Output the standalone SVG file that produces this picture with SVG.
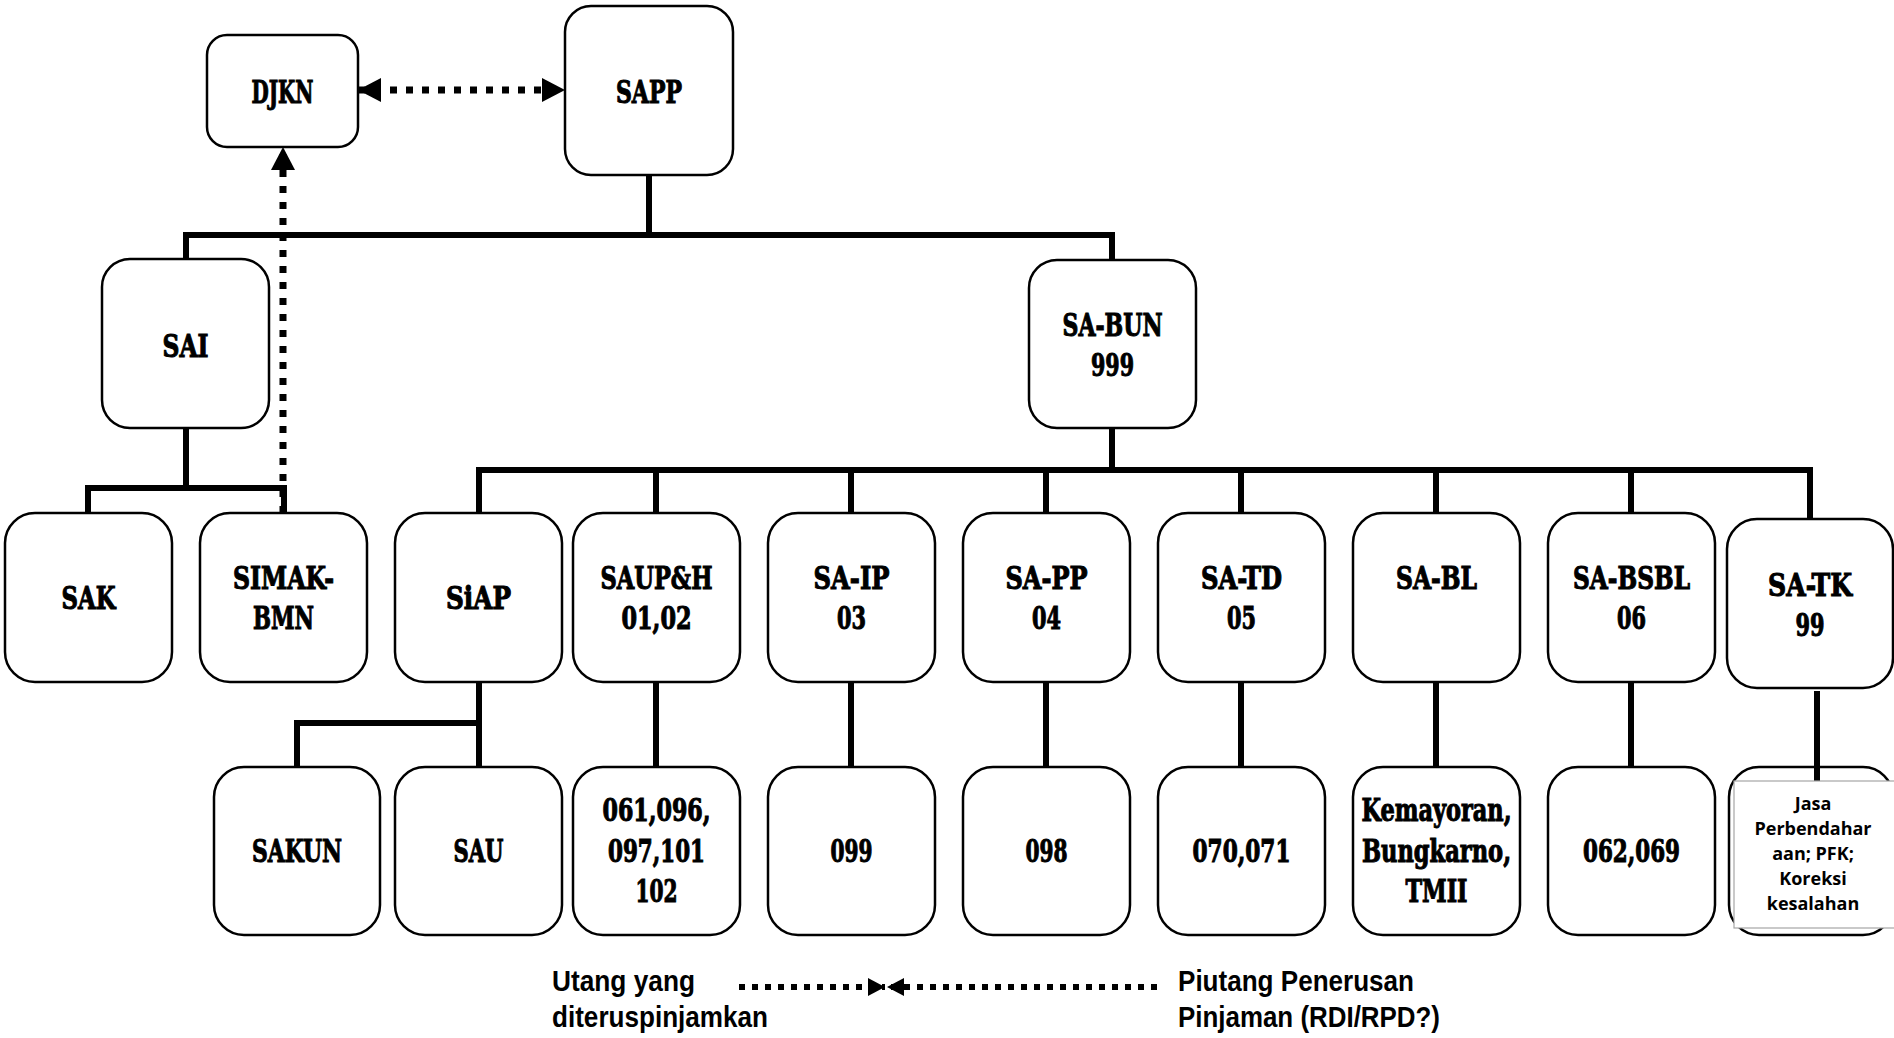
<svg xmlns="http://www.w3.org/2000/svg" width="1894" height="1038" viewBox="0 0 1894 1038">
<style>
.box{fill:#fff;stroke:#000;stroke-width:2.5}
.conn{fill:none;stroke:#000;stroke-width:6;stroke-linejoin:miter}
.dot{fill:none;stroke:#000;stroke-width:7;stroke-dasharray:7 9}
.ldot{fill:none;stroke:#000;stroke-width:6;stroke-dasharray:6 7}
.lbl{font-family:"DejaVu Serif Condensed","DejaVu Serif",serif;font-weight:bold;font-size:31px;text-anchor:middle;fill:#000;stroke:#000;stroke-width:1}
.small{font-family:"Open Sans","Noto Sans",sans-serif;font-weight:bold;font-size:18px;text-anchor:middle;fill:#000}
.leg{font-family:"Liberation Sans",Arial,sans-serif;font-weight:bold;font-size:29px;fill:#000}
</style>
<defs>
<marker id="ah" markerUnits="userSpaceOnUse" markerWidth="24" markerHeight="24" refX="23" refY="12" orient="auto-start-reverse" viewBox="0 0 24 24"><path d="M0,0 L23,12 L0,24 z" fill="#000"/></marker>
<marker id="ahs" markerUnits="userSpaceOnUse" markerWidth="18" markerHeight="20" refX="17" refY="10" orient="auto" viewBox="0 0 18 20"><path d="M0,1 L17,10 L0,19 z" fill="#000"/></marker>
</defs>
<rect width="1894" height="1038" fill="#fff"/>

<g id="connectors">
<path class="conn" d="M649 175 V235"/>
<path class="conn" d="M186 259 V235 H1112 V260"/>
<path class="conn" d="M186 428 V488"/>
<path class="conn" d="M88 513 V488 H284 V513"/>
<path class="conn" d="M1112 428 V470"/>
<path class="conn" d="M479 513 V470 H1810 V519"/>
<path class="conn" d="M656 470 V513 M851 470 V513 M1046 470 V513 M1241 470 V513 M1436 470 V513 M1631 470 V513"/>
<path class="conn" d="M479 682 V767 M656 682 V767 M851 682 V767 M1046 682 V767 M1241 682 V767 M1436 682 V767 M1631 682 V767"/>
<path class="conn" d="M297 767 V723 H479"/>
<path class="dot" d="M358 90 H565" marker-start="url(#ah)" marker-end="url(#ah)"/>
<path class="dot" d="M283 513 V147" marker-end="url(#ah)"/>
<path class="ldot" d="M739 987 H885" marker-end="url(#ahs)"/>
<path class="ldot" d="M1157 987 H887" marker-end="url(#ahs)"/>
</g>

<g id="DJKN"><rect class="box" x="207" y="35" width="151" height="112" rx="20"/><text class="lbl" x="282.5" y="103" textLength="62" lengthAdjust="spacingAndGlyphs">DJKN</text></g>
<g id="SAPP"><rect class="box" x="565" y="6" width="168" height="169" rx="26"/><text class="lbl" x="649" y="103" textLength="66" lengthAdjust="spacingAndGlyphs">SAPP</text></g>
<g id="SAI"><rect class="box" x="102" y="259" width="167" height="169" rx="28"/><text class="lbl" x="185.5" y="357" textLength="46" lengthAdjust="spacingAndGlyphs">SAI</text></g>
<g id="SA-BUN"><rect class="box" x="1029" y="260" width="167" height="168" rx="28"/><text class="lbl" x="1112.5" y="336" textLength="100" lengthAdjust="spacingAndGlyphs">SA-BUN</text><text class="lbl" x="1112.5" y="376" textLength="43" lengthAdjust="spacingAndGlyphs">999</text></g>

<g id="SAK"><rect class="box" x="5" y="513" width="167" height="169" rx="30"/><text class="lbl" x="88.5" y="609" textLength="54" lengthAdjust="spacingAndGlyphs">SAK</text></g>
<g id="SIMAK-BMN"><rect class="box" x="200" y="513" width="167" height="169" rx="30"/><text class="lbl" x="283.5" y="589" textLength="101" lengthAdjust="spacingAndGlyphs">SIMAK-</text><text class="lbl" x="283.5" y="629" textLength="61" lengthAdjust="spacingAndGlyphs">BMN</text></g>
<g id="SiAP"><rect class="box" x="395" y="513" width="167" height="169" rx="30"/><text class="lbl" x="478.5" y="609" textLength="65" lengthAdjust="spacingAndGlyphs">SiAP</text></g>
<g id="SAUPH"><rect class="box" x="573" y="513" width="167" height="169" rx="30"/><text class="lbl" x="656.5" y="589" textLength="112" lengthAdjust="spacingAndGlyphs">SAUP&amp;H</text><text class="lbl" x="656.5" y="629" textLength="70" lengthAdjust="spacingAndGlyphs">01,02</text></g>
<g id="SA-IP"><rect class="box" x="768" y="513" width="167" height="169" rx="30"/><text class="lbl" x="851.5" y="589" textLength="76" lengthAdjust="spacingAndGlyphs">SA-IP</text><text class="lbl" x="851.5" y="629" textLength="29" lengthAdjust="spacingAndGlyphs">03</text></g>
<g id="SA-PP"><rect class="box" x="963" y="513" width="167" height="169" rx="30"/><text class="lbl" x="1046.5" y="589" textLength="82" lengthAdjust="spacingAndGlyphs">SA-PP</text><text class="lbl" x="1046.5" y="629" textLength="29" lengthAdjust="spacingAndGlyphs">04</text></g>
<g id="SA-TD"><rect class="box" x="1158" y="513" width="167" height="169" rx="30"/><text class="lbl" x="1241.5" y="589" textLength="81" lengthAdjust="spacingAndGlyphs">SA-TD</text><text class="lbl" x="1241.5" y="629" textLength="29" lengthAdjust="spacingAndGlyphs">05</text></g>
<g id="SA-BL"><rect class="box" x="1353" y="513" width="167" height="169" rx="30"/><text class="lbl" x="1436.5" y="589" textLength="81" lengthAdjust="spacingAndGlyphs">SA-BL</text></g>
<g id="SA-BSBL"><rect class="box" x="1548" y="513" width="167" height="169" rx="30"/><text class="lbl" x="1631.5" y="589" textLength="117" lengthAdjust="spacingAndGlyphs">SA-BSBL</text><text class="lbl" x="1631.5" y="629" textLength="29" lengthAdjust="spacingAndGlyphs">06</text></g>
<g id="SA-TK"><rect class="box" x="1727" y="519" width="166" height="169" rx="30"/><text class="lbl" x="1810" y="596" textLength="84" lengthAdjust="spacingAndGlyphs">SA-TK</text><text class="lbl" x="1810" y="636" textLength="29" lengthAdjust="spacingAndGlyphs">99</text></g>

<g id="SAKUN"><rect class="box" x="214" y="767" width="166" height="168" rx="30"/><text class="lbl" x="297" y="862" textLength="90" lengthAdjust="spacingAndGlyphs">SAKUN</text></g>
<g id="SAU"><rect class="box" x="395" y="767" width="167" height="168" rx="30"/><text class="lbl" x="478.5" y="862" textLength="50" lengthAdjust="spacingAndGlyphs">SAU</text></g>
<g id="n061"><rect class="box" x="573" y="767" width="167" height="168" rx="30"/><text class="lbl" x="656.5" y="821" textLength="108" lengthAdjust="spacingAndGlyphs">061,096,</text><text class="lbl" x="656.5" y="862" textLength="97" lengthAdjust="spacingAndGlyphs">097,101</text><text class="lbl" x="656.5" y="902" textLength="42" lengthAdjust="spacingAndGlyphs">102</text></g>
<g id="n099"><rect class="box" x="768" y="767" width="167" height="168" rx="30"/><text class="lbl" x="851.5" y="862" textLength="42" lengthAdjust="spacingAndGlyphs">099</text></g>
<g id="n098"><rect class="box" x="963" y="767" width="167" height="168" rx="30"/><text class="lbl" x="1046.5" y="862" textLength="42" lengthAdjust="spacingAndGlyphs">098</text></g>
<g id="n070"><rect class="box" x="1158" y="767" width="167" height="168" rx="30"/><text class="lbl" x="1241.5" y="862" textLength="98" lengthAdjust="spacingAndGlyphs">070,071</text></g>
<g id="nKemayoran"><rect class="box" x="1353" y="767" width="167" height="168" rx="30"/><text class="lbl" x="1436.5" y="821" textLength="150" lengthAdjust="spacingAndGlyphs">Kemayoran,</text><text class="lbl" x="1436.5" y="862" textLength="149" lengthAdjust="spacingAndGlyphs">Bungkarno,</text><text class="lbl" x="1436.5" y="902" textLength="62" lengthAdjust="spacingAndGlyphs">TMII</text></g>
<g id="n062"><rect class="box" x="1548" y="767" width="167" height="168" rx="30"/><text class="lbl" x="1631.5" y="862" textLength="97" lengthAdjust="spacingAndGlyphs">062,069</text></g>
<g id="nJasa"><rect class="box" x="1729" y="767" width="164" height="168" rx="30"/>
<path class="conn" d="M1817 691 V782"/>
<rect x="1734" y="781" width="162" height="147" fill="#fff" stroke="#a6a6a6" stroke-width="1.2"/>
<text class="small" x="1813" y="810">Jasa</text><text class="small" x="1813" y="835">Perbendahar</text><text class="small" x="1813" y="860">aan; PFK;</text><text class="small" x="1813" y="885">Koreksi</text><text class="small" x="1813" y="910">kesalahan</text></g>

<g id="legend">
<text class="leg" x="552" y="991" textLength="143" lengthAdjust="spacingAndGlyphs">Utang yang</text>
<text class="leg" x="552" y="1027" textLength="216" lengthAdjust="spacingAndGlyphs">diteruspinjamkan</text>
<text class="leg" x="1178" y="991" textLength="236" lengthAdjust="spacingAndGlyphs">Piutang Penerusan</text>
<text class="leg" x="1178" y="1027" textLength="262" lengthAdjust="spacingAndGlyphs">Pinjaman (RDI/RPD?)</text>
</g>
</svg>
